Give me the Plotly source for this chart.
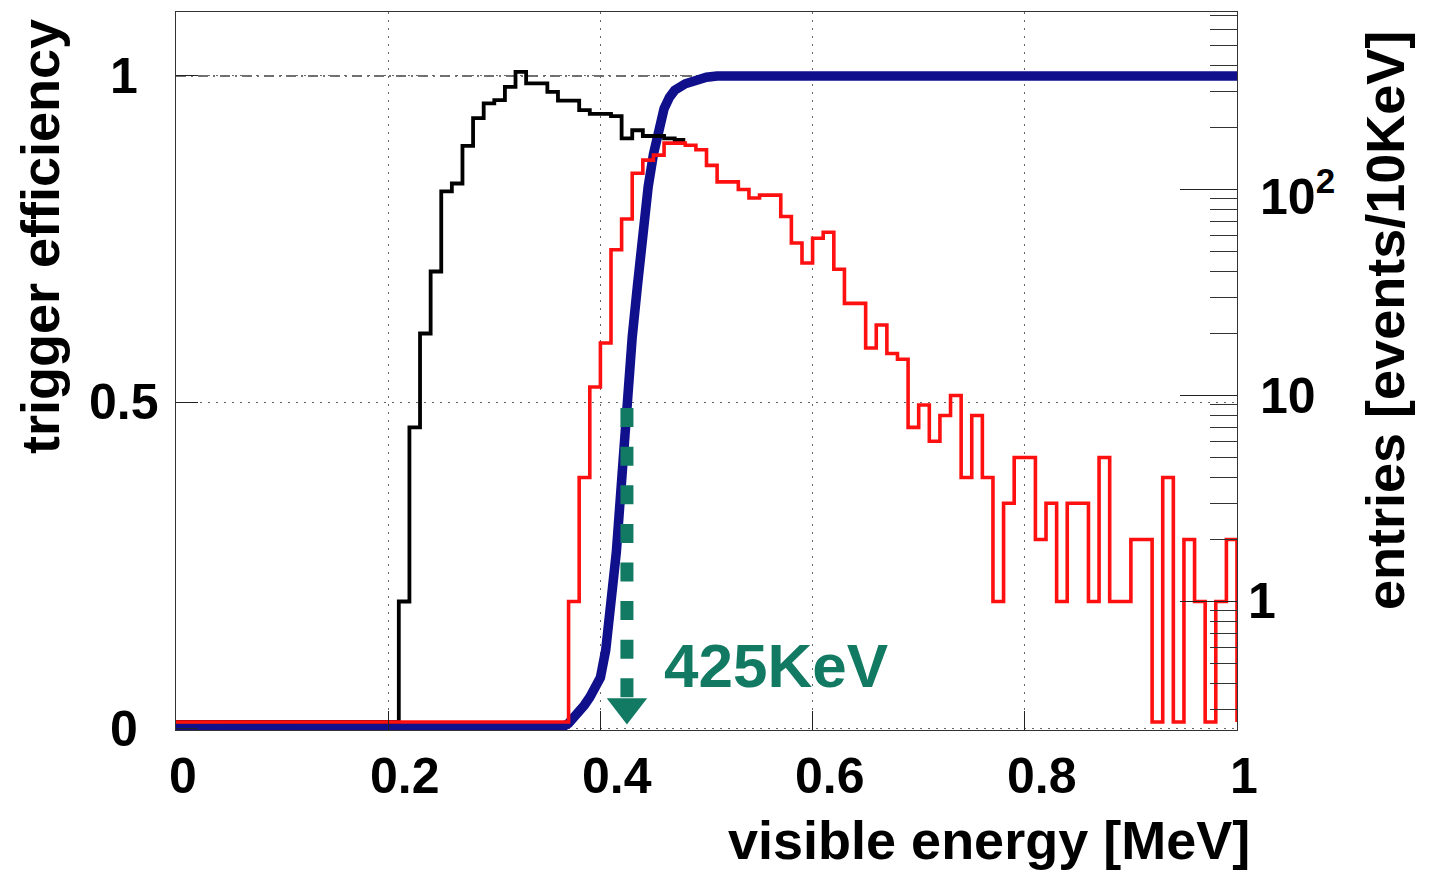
import math
import plotly.graph_objects as go

# ---------------------------------------------------------------- data
BIN_WIDTH = 0.01          # MeV per bin (10 KeV)
E_MIN, E_MAX = 0.0, 1.0

# all events (black histogram), counts per 10 KeV bin from 0.21 MeV
all_start = 0.21
all_counts = [1, 7, 20, 40, 98, 107, 163, 222, 262, 272, 315, 373, 328, 328,
              298, 270, 270, 243, 233, 233, 227, 177, 194, 182, 182, 177, 174]

# triggered events (red histogram), counts per 10 KeV bin from 0.37 MeV
trig_start = 0.37
trig_counts = [1, 4, 11, 18, 51, 72, 120, 139, 147, 168, 168, 164, 156, 131,
               109, 109, 100, 91, 94, 94, 74, 55, 44, 58, 62, 41, 28, 28, 17,
               22, 16, 15, 7, 9, 6, 8, 10, 4, 8, 4, 1, 3, 5, 5, 2, 3, 1, 3, 3,
               1, 5, 1, 1, 2, 2, 0, 4, 0, 2, 1, 0, 1, 2]

# trigger efficiency curve
eff_energy = [0.0, 0.36, 0.365, 0.37, 0.375, 0.38, 0.385, 0.39, 0.395, 0.40,
              0.405, 0.41, 0.415, 0.42, 0.425, 0.43, 0.435, 0.44, 0.445, 0.45,
              0.455, 0.46, 0.465, 0.47, 0.48, 0.49, 0.50, 0.51, 1.0]
eff_value = [0.0, 0.0, 0.003, 0.008, 0.016, 0.025, 0.036, 0.048, 0.062, 0.078,
             0.12, 0.19, 0.27, 0.38, 0.50, 0.60, 0.68, 0.76, 0.83, 0.88,
             0.92, 0.95, 0.967, 0.978, 0.988, 0.994, 0.998, 1.0, 1.0]

# 50 % threshold marker
threshold_energy = 0.425
threshold_eff = 0.5
threshold_label = "425KeV"

x_tick_vals = [0, 0.2, 0.4, 0.6, 0.8, 1]
x_tick_text = ["0", "0.2", "0.4", "0.6", "0.8", "1"]
eff_tick_vals = [0, 0.5, 1]
eff_tick_text = ["0", "0.5", "1"]
count_tick_vals = [1, 10, 100]
count_tick_text = ["1", "10", "10<sup>2</sup>"]
count_minor_vals = [0.3, 0.4, 0.5, 0.6, 0.7, 0.8, 0.9,
                    2, 3, 4, 5, 6, 7, 8, 9,
                    20, 30, 40, 50, 60, 70, 80, 90,
                    200, 300, 400, 500, 600, 700]

# ---------------------------------------------------------------- style
FONT = "Liberation Sans, Arial, Helvetica, sans-serif"
BLUE = "rgb(16,16,140)"
GREEN = "rgb(18,122,98)"
RED = "rgb(255,16,16)"
EFF_RANGE = [-0.0023, 1.098]
LOG_RANGE = [-0.624, 2.862]
HIST_FLOOR = 0.26          # empty bins are drawn on the bottom of the log scale

W, H = 1435, 880
ML, MR, MT, MB = 176, 198, 12, 150
PW, PH = W - ML - MR, H - MT - MB


def paper_x(px):
    return (px - ML) / PW


def paper_y(py):
    return (H - MB - py) / PH


def step_outline(start, counts, close_right):
    """Histogram outline as corner points (ROOT 'HIST' look)."""
    n0 = round(start / BIN_WIDTH)
    edges = [round((n0 + i) * BIN_WIDTH, 4) for i in range(len(counts) + 1)]
    xs = [E_MIN, edges[0]]
    ys = [HIST_FLOOR, HIST_FLOOR]
    for i, c in enumerate(counts):
        v = max(c, HIST_FLOOR)
        xs += [edges[i], edges[i + 1]]
        ys += [v, v]
    if close_right:
        xs.append(edges[-1])
        ys.append(HIST_FLOOR)
    return xs, ys


fig = go.Figure()

ax, ay = step_outline(all_start, all_counts, close_right=False)
fig.add_trace(go.Scatter(x=ax, y=ay, yaxis="y2", mode="lines",
                         line=dict(color="black", width=3.8), hoverinfo="skip"))

tx, ty = step_outline(trig_start, trig_counts, close_right=True)
fig.add_trace(go.Scatter(x=tx, y=ty, yaxis="y2", mode="lines",
                         line=dict(color=RED, width=3.6), hoverinfo="skip"))

fig.add_trace(go.Scatter(x=eff_energy, y=eff_value, mode="lines",
                         line=dict(color=BLUE, width=9.5), hoverinfo="skip"))

# dotted arrow down from the 50 % point
fig.add_trace(go.Scatter(x=[threshold_energy, threshold_energy],
                         y=[threshold_eff - 0.009, 0.048], mode="lines",
                         line=dict(color=GREEN, width=13, dash="19px,19.6px"),
                         hoverinfo="skip"))
fig.add_trace(go.Scatter(x=[threshold_energy], y=[0.033], mode="markers",
                         marker=dict(symbol="triangle-down", size=35, color=GREEN,
                                     line=dict(width=0)),
                         cliponaxis=False, hoverinfo="skip"))

# dash-dot reference line at full efficiency
fig.add_shape(type="line", xref="x", yref="y", x0=0, x1=1, y0=1, y1=1,
              line=dict(color="#444", width=1.5, dash="10px,5px,2px,5px"), layer="below")

annotations = []
tick_font = dict(family=FONT, size=50, color="black", weight="bold")
for v, t in zip(x_tick_vals, x_tick_text):
    annotations.append(dict(x=v, y=0, xref="x", yref="paper", text=t, showarrow=False,
                            xanchor="center", yanchor="middle",
                            xshift=17 if len(t) > 1 else 7, yshift=-46, font=tick_font))
for v, t in zip(eff_tick_vals, eff_tick_text):
    annotations.append(dict(x=0, y=v, xref="paper", yref="y", text=t, showarrow=False,
                            xanchor="center", yanchor="middle", xshift=-52,
                            font=tick_font))
right_shift = {"1": 9, "10": 21, "10<sup>2</sup>": 21}
for v, t in zip(count_tick_vals, count_tick_text):
    annotations.append(dict(x=1, y=math.log10(v), xref="paper", yref="y2", text=t,
                            showarrow=False, xanchor="left", yanchor="middle",
                            xshift=right_shift[t], yshift=-3 if t.startswith("10<") else 0,
                            font=tick_font))

title_font = dict(family=FONT, size=54, color="black", weight="bold")
annotations.append(dict(x=paper_x(1252), y=paper_y(840), xref="paper", yref="paper",
                        text="visible energy [MeV]", showarrow=False,
                        xanchor="right", yanchor="middle", font=title_font))
annotations.append(dict(x=paper_x(40), y=paper_y(237), xref="paper", yref="paper",
                        text="trigger efficiency", showarrow=False, textangle=-90,
                        xanchor="center", yanchor="middle", font=title_font))
annotations.append(dict(x=paper_x(1385), y=paper_y(321), xref="paper", yref="paper",
                        text="entries [events/10KeV]", showarrow=False, textangle=-90,
                        xanchor="center", yanchor="middle", font=title_font))
annotations.append(dict(x=0.5652, y=0.0958, xref="x", yref="y", text=threshold_label,
                        showarrow=False, xanchor="center", yanchor="middle",
                        font=dict(family=FONT, size=62, color=GREEN, weight="bold")))

grid_dash = "2px,6px"
fig.update_layout(
    width=W, height=H,
    margin=dict(l=ML, r=MR, t=MT, b=MB, pad=0),
    paper_bgcolor="white", plot_bgcolor="white",
    showlegend=False,
    font=dict(family=FONT),
    xaxis=dict(range=[E_MIN, E_MAX], tickmode="array", tickvals=x_tick_vals,
               showticklabels=False, ticks="inside", ticklen=19, tickcolor="#222",
               tickwidth=1, showgrid=True, gridcolor="#666", gridwidth=1,
               griddash=grid_dash, zeroline=False, showline=True, linecolor="#333",
               linewidth=1.2, mirror=True),
    yaxis=dict(range=EFF_RANGE, tickmode="array", tickvals=eff_tick_vals,
               showticklabels=False, ticks="inside", ticklen=22, tickcolor="#222",
               tickwidth=1, showgrid=True, gridcolor="#666", gridwidth=1,
               griddash=grid_dash, zeroline=False, showline=True, linecolor="#333",
               linewidth=1.2, mirror=True),
    yaxis2=dict(type="log", range=LOG_RANGE, overlaying="y", side="right",
                tickmode="array", tickvals=count_tick_vals, showticklabels=False,
                ticks="inside", ticklen=57, tickcolor="#222", tickwidth=1.2,
                showgrid=False, zeroline=False, showline=False,
                minor=dict(tickmode="array", tickvals=count_minor_vals, ticks="inside",
                           ticklen=27, tickcolor="#333", tickwidth=1, showgrid=False)),
    annotations=annotations,
)

fig.write_html("out.html")
